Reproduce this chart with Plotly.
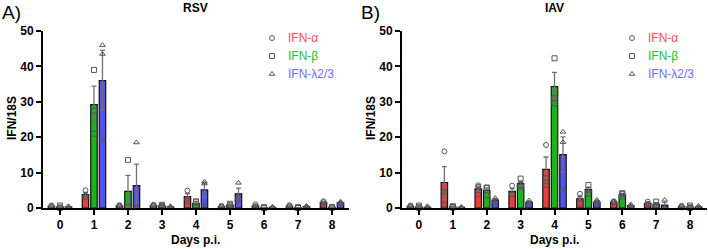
import plotly.graph_objects as go

days = [0, 1, 2, 3, 4, 5, 6, 7, 8]
day_labels = ["0", "1", "2", "3", "4", "5", "6", "7", "8"]
series_names = ["IFN-α", "IFN-β", "IFN-λ2/3"]

# ---- RSV ----
rsv_alpha_mean = [0.5, 3.8, 0.6, 0.7, 3.2, 0.4, 0.6, 0.5, 1.5]
rsv_alpha_err = [0.1, 0.6, 0.1, 0.1, 0.9, 0.1, 0.2, 0.1, 0.2]
rsv_alpha_pts = [[0.7, 0.5, 0.3], [5.0, 3.5, 3.0], [0.8, 0.6, 0.4], [0.9, 0.7, 0.5], [4.9, 2.6, 2.0],
                 [0.6, 0.4, 0.2], [1.0, 0.5, 0.3], [0.8, 0.5, 0.3], [1.9, 1.6, 1.1]]
rsv_beta_mean = [0.3, 29.2, 4.7, 0.6, 1.3, 0.8, 0.1, 0.1, 0.2]
rsv_beta_err = [0.2, 5.2, 4.5, 0.2, 0.5, 0.2, 0.05, 0.05, 0.1]
rsv_beta_pts = [[0.7, 0.1, 0.1], [39.0, 27.5, 21.0], [13.6, 0.3, 0.2], [0.9, 0.6, 0.3], [1.9, 1.6, 0.3],
                [1.2, 0.8, 0.4], [0.2, 0.1, 0.0], [0.2, 0.1, 0.0], [0.3, 0.2, 0.1]]
rsv_lam_mean = [0.3, 36.0, 6.3, 0.3, 5.1, 4.0, 0.2, 0.4, 1.5]
rsv_lam_err = [0.1, 8.5, 6.1, 0.1, 2.0, 1.6, 0.1, 0.1, 0.2]
rsv_lam_pts = [[0.5, 0.2, 0.1], [46.0, 43.5, 19.3], [18.5, 0.3, 0.1], [0.5, 0.3, 0.1], [7.4, 6.9, 1.0],
               [7.1, 3.0, 1.8], [0.3, 0.2, 0.1], [0.6, 0.4, 0.2], [1.8, 1.5, 1.2]]

# ---- IAV ----
iav_alpha_mean = [0.5, 7.2, 5.4, 4.7, 10.9, 2.6, 1.7, 1.3, 0.4]
iav_alpha_err = [0.1, 4.5, 0.8, 0.8, 3.5, 0.8, 0.1, 0.3, 0.1]
iav_alpha_pts = [[0.7, 0.5, 0.3], [16.0, 4.5, 1.0], [6.4, 6.0, 3.8], [6.3, 4.0, 3.8], [17.8, 8.5, 6.4],
                 [4.0, 2.6, 1.2], [1.9, 1.7, 1.5], [1.8, 1.2, 0.9], [0.6, 0.4, 0.2]]
iav_beta_mean = [0.3, 0.3, 5.0, 6.9, 34.3, 5.2, 3.8, 1.0, 0.3]
iav_beta_err = [0.2, 0.1, 0.7, 0.7, 4.0, 0.7, 0.3, 0.4, 0.2]
iav_beta_pts = [[0.7, 0.2, 0.1], [0.5, 0.3, 0.1], [5.8, 5.6, 3.6], [8.3, 6.5, 6.0], [42.3, 31.0, 29.6],
                [6.5, 5.0, 4.1], [4.2, 3.9, 3.3], [1.8, 0.8, 0.4], [0.7, 0.2, 0.0]]
iav_lam_mean = [0.2, 0.2, 2.2, 1.6, 15.1, 1.7, 0.7, 0.8, 0.3]
iav_lam_err = [0.1, 0.1, 0.4, 0.3, 5.0, 0.4, 0.2, 0.8, 0.2]
iav_lam_pts = [[0.5, 0.1, 0.1], [0.3, 0.2, 0.1], [2.8, 2.2, 1.6], [2.1, 1.5, 1.2], [21.5, 18.6, 5.2],
               [2.3, 1.8, 1.0], [1.0, 0.6, 0.4], [2.3, 0.1, 0.0], [0.6, 0.2, 0.1]]

bar_colors = ["#EE3B3B", "#1DB31D", "#5252EE"]
text_colors = ["#FF5050", "#22C022", "#6A6AFF"]
symbols = ["circle-open", "square-open", "triangle-up-open"]
centers = [-0.25, 0.0, 0.25]
bar_w = 0.19
FONT = "Liberation Sans, Arial, sans-serif"

W, H = 708, 249
MT, MB = 31, 41
PLOT_BOTTOM = H - MB

panels = [
    dict(xa="x", ya="y", legend_x=272,
         means=[rsv_alpha_mean, rsv_beta_mean, rsv_lam_mean],
         errs=[rsv_alpha_err, rsv_beta_err, rsv_lam_err],
         pts=[rsv_alpha_pts, rsv_beta_pts, rsv_lam_pts]),
    dict(xa="x2", ya="y2", legend_x=632,
         means=[iav_alpha_mean, iav_beta_mean, iav_lam_mean],
         errs=[iav_alpha_err, iav_beta_err, iav_lam_err],
         pts=[iav_alpha_pts, iav_beta_pts, iav_lam_pts]),
]
legend_rows = [38, 56, 74]

fig = go.Figure()
for p in panels:
    for i in range(3):
        fig.add_trace(go.Bar(
            x=days, y=p["means"][i], width=bar_w, offset=centers[i] - bar_w / 2,
            marker=dict(color=bar_colors[i], line=dict(color="#111111", width=1.2)),
            error_y=dict(type="data", array=p["errs"][i], color="#707070", thickness=1.3, width=2.5),
            xaxis=p["xa"], yaxis=p["ya"], showlegend=False, hoverinfo="skip"))
    for i in range(3):
        xs, ys = [], []
        for d, vals in zip(days, p["pts"][i]):
            for v in vals:
                xs.append(d + centers[i])
                ys.append(v)
        fig.add_trace(go.Scatter(
            x=xs, y=ys, mode="markers", cliponaxis=False,
            marker=dict(symbol=symbols[i], size=5, color="#555555", line=dict(width=1, color="#555555")),
            xaxis=p["xa"], yaxis=p["ya"], showlegend=False, hoverinfo="skip"))
    # legend keys (pixel-space overlay axis)
    for i in range(3):
        fig.add_trace(go.Scatter(
            x=[p["legend_x"]], y=[legend_rows[i]], mode="markers", cliponaxis=False,
            marker=dict(symbol=symbols[i], size=5, color="#555555", line=dict(width=1, color="#555555")),
            xaxis="x3", yaxis="y3", showlegend=False, hoverinfo="skip"))
        fig.add_annotation(text=series_names[i], x=p["legend_x"] + 14, y=legend_rows[i],
                           xref="x3", yref="y3", showarrow=False, xanchor="left", yanchor="middle",
                           font=dict(family=FONT, size=12, color=text_colors[i]))

axis_common = dict(showgrid=False, zeroline=False, showline=True, linecolor="black", linewidth=2,
                   ticks="outside", ticklen=5, tickwidth=2, tickcolor="black",
                   tickfont=dict(family=FONT, size=12, color="black", weight="bold"))

fig.update_layout(
    width=W, height=H, margin=dict(l=0, r=0, t=MT, b=MB),
    paper_bgcolor="white", plot_bgcolor="rgba(0,0,0,0)", barmode="overlay",
    font=dict(family=FONT), showlegend=False,
    xaxis=dict(domain=[0.0607, 0.4929], range=[-0.5, 8.5], tickvals=days, ticktext=day_labels,
               anchor="y", **axis_common),
    xaxis2=dict(domain=[0.5678, 0.9986], range=[-0.5, 8.5], tickvals=days, ticktext=day_labels,
                anchor="y2", **axis_common),
    yaxis=dict(domain=[0, 1], range=[0, 50], tickvals=[0, 10, 20, 30, 40, 50], anchor="x", **axis_common),
    yaxis2=dict(domain=[0, 1], range=[0, 50], tickvals=[0, 10, 20, 30, 40, 50], anchor="x2", **axis_common),
    xaxis3=dict(domain=[0, 1], range=[0, W], visible=False, anchor="y3", fixedrange=True),
    yaxis3=dict(domain=[0, 1], range=[PLOT_BOTTOM, MT], visible=False, anchor="x3", fixedrange=True),
)

def py(pix):
    return (PLOT_BOTTOM - pix) / (PLOT_BOTTOM - MT)

annots = [
    dict(text="RSV", x=0.2768, y=py(8)),
    dict(text="IAV", x=0.7832, y=py(8)),
    dict(text="Days p.i.", x=0.2768, y=py(240)),
    dict(text="Days p.i.", x=0.7832, y=py(240)),
]
for a in annots:
    fig.add_annotation(text="<b>%s</b>" % a["text"], x=a["x"], y=a["y"], xref="paper", yref="paper",
                       showarrow=False, xanchor="center", yanchor="middle",
                       font=dict(family=FONT, size=12, color="black"))
for txt, xp in [("IFN/18S", 12 / W), ("IFN/18S", 371 / W)]:
    fig.add_annotation(text="<b>%s</b>" % txt, x=xp, y=py(118), xref="paper", yref="paper",
                       showarrow=False, textangle=-90, xanchor="center", yanchor="middle",
                       font=dict(family=FONT, size=12, color="black"))
for txt, xp in [("A)", 0 / W), ("B)", 359 / W)]:
    fig.add_annotation(text=txt, x=xp, y=py(12), xref="paper", yref="paper",
                       showarrow=False, xanchor="left", yanchor="middle",
                       font=dict(family=FONT, size=19, color="black"))

fig.write_html("out.html", config={"displayModeBar": False},
               post_script="document.body.style.margin='0px';document.body.style.padding='0px';")
